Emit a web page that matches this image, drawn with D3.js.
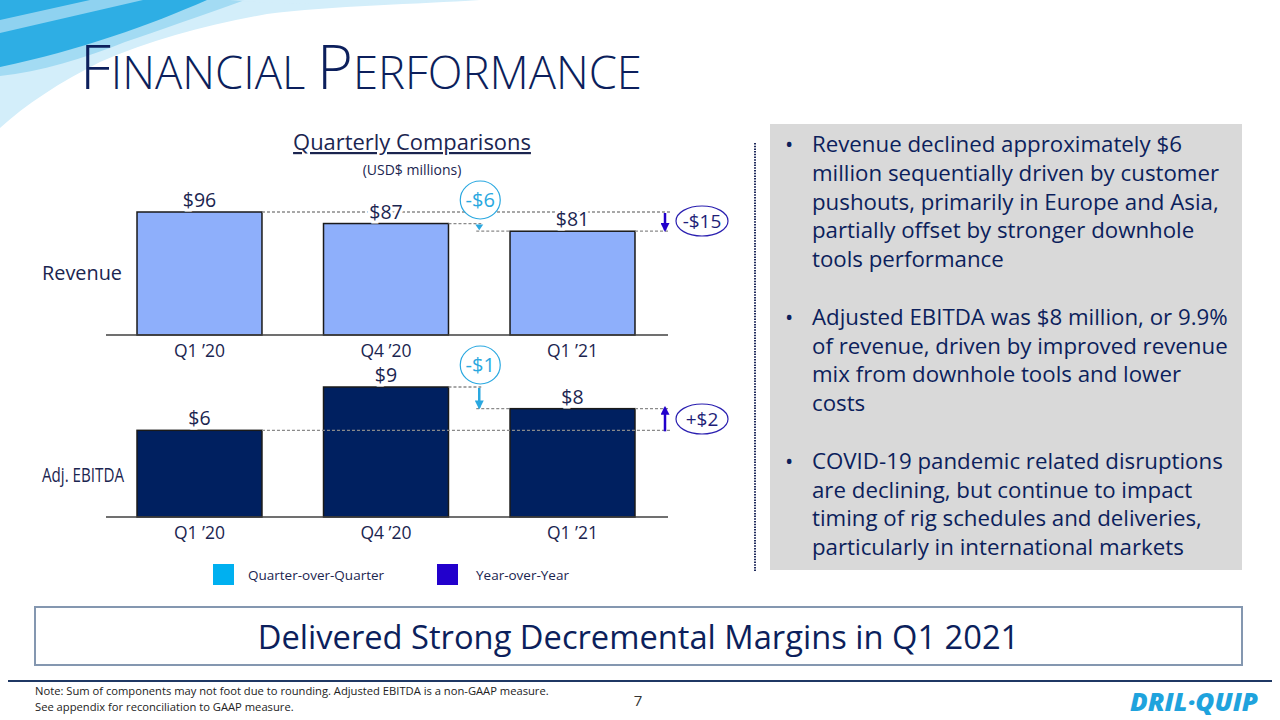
<!DOCTYPE html>
<html><head><meta charset="utf-8">
<script src="https://cdn.jsdelivr.net/npm/d3@7"></script>
<style>
html,body{margin:0;padding:0;background:#fff;}
svg{display:block;font-family:"Open Sans",sans-serif;}
</style></head>
<body>
<svg id="c" width="1280" height="720"></svg>
<script>
// ---------------- data ----------------
const quarters = ["Q1 \u201920", "Q4 \u201920", "Q1 \u201921"];
const revenue = [96, 87, 81];
const ebitda = [6.0, 9.0, 7.5];
const qoqLabels = ["-$6", "-$1"];
const yoyLabels = ["-$15", "+$2"];
const legendItems = ["Quarter-over-Quarter", "Year-over-Year"];
const bullets = [
  ["Revenue declined approximately $6", "million sequentially driven by customer", "pushouts, primarily in Europe and Asia,", "partially offset by stronger downhole", "tools performance"],
  ["Adjusted EBITDA was $8 million, or 9.9%", "of revenue, driven by improved revenue", "mix from downhole tools and lower", "costs"],
  ["COVID-19 pandemic related disruptions", "are declining, but continue to impact", "timing of rig schedules and deliveries,", "particularly in international markets"]
];
const noteLines = ["Note: Sum of components may not foot due to rounding. Adjusted EBITDA is a non-GAAP measure.", "See appendix for reconciliation to GAAP measure."];

// ---------------- style ----------------
const NAVY = "#0c1f5c", TXT = "#1b2550", REVC = "#8eaffb", EBC = "#002060";
const QOQ = "#2aa8e0", QOQSQ = "#00b0f0", YOY = "#2200cc", YOYC = "#2a1fb0", GRID = "#8a8a8a";

const svg = d3.select("#c");
function fit(sel, target) {
  const w = sel.node().getComputedTextLength();
  const fs = parseFloat(sel.attr("font-size"));
  sel.attr("font-size", fs * target / w);
  return fs * target / w;
}

// ------------- background wave -------------
const wave = svg.append("g");
wave.append("path").attr("fill", "#d3eefa")
  .attr("d", "M0,0 L480,0 C420,4 330,6 267,14 C210,24 150,40 100,62 C60,82 25,105 0,128 Z");
wave.append("path").attr("fill", "#a3dbf3")
  .attr("d", "M0,0 L245,0 C200,16 160,30 125,42 C85,58 40,72 0,76 Z");
wave.append("path").attr("fill", "#8fd2f0")
  .attr("d", "M0,0 L205,0 C150,22 90,40 40,56 C25,60 10,64 0,67 Z");
wave.append("path").attr("fill", "#2eaee4")
  .attr("d", "M0,33 L143,0 L207,0 C150,25 80,50 0,67 Z");
wave.append("path").attr("fill", "#2eaee4")
  .attr("d", "M0,0 L90,0 L0,20 Z");
wave.append("path").attr("fill", "#d3eefa").attr("opacity", 0.8)
  .attr("d", "M230,0 C300,6 380,4 470,0 Z");

// ------------- title -------------
const title = svg.append("text").attr("x", 80).attr("y", 89).attr("fill", NAVY)
  .attr("font-weight", 300).attr("font-size", 53);
const tparts = [["F", 1], ["INANCIAL ", 0.74], ["P", 1], ["ERFORMANCE", 0.74]];
tparts.forEach(p => title.append("tspan").attr("font-size", 53 * p[1]).text(p[0]));
{
  const w = title.node().getComputedTextLength();
  const k = 562 / w;
  title.selectAll("tspan").attr("font-size", function () { return parseFloat(d3.select(this).attr("font-size")) * k; });
}

// ------------- chart header -------------
const hdr = svg.append("text").attr("x", 412).attr("y", 150).attr("text-anchor", "middle")
  .attr("fill", TXT).attr("font-size", 21).attr("text-decoration", "underline").text("Quarterly Comparisons");
fit(hdr, 238);
svg.append("text").attr("x", 412).attr("y", 175).attr("text-anchor", "middle")
  .attr("fill", TXT).attr("font-size", 14).text("(USD$ millions)");

// ------------- scales -------------
const x = d3.scaleBand().domain(quarters).range([120, 652]).paddingInner(0.33).paddingOuter(0.0912);
const bw = x.bandwidth();
const yRev = d3.scaleLinear().domain([0, d3.max(revenue)]).range([335, 212]);
const yEb = d3.scaleLinear().domain([0, d3.max(ebitda)]).range([517, 387]);
const lineEnd = 670, qoqX = (x(quarters[1]) + bw + x(quarters[2])) / 2, yoyX = 665;

// arrow markers
const defs = svg.append("defs");
function marker(id, color) {
  defs.append("marker").attr("id", id).attr("viewBox", "0 0 10 10").attr("refX", 8).attr("refY", 5)
    .attr("markerWidth", 3.6).attr("markerHeight", 3.6).attr("orient", "auto-start-reverse")
    .append("path").attr("d", "M0,0 L10,5 L0,10 Z").attr("fill", color);
}
marker("mq", QOQ); marker("my", YOY);

function panel(values, y, fill, rowLabel, rowY, rowW, qoqLab, yoyLab, qoqCircleY, yoyCircleY, tinyQoq) {
  const g = svg.append("g");
  // bars
  g.selectAll("rect.bar").data(values).join("rect").attr("class", "bar")
    .attr("x", (d, i) => x(quarters[i])).attr("width", bw)
    .attr("y", d => y(d)).attr("height", d => y(0) - y(d))
    .attr("fill", fill).attr("stroke", "#1a1a1a").attr("stroke-width", 1.5);
  // baseline
  g.append("line").attr("x1", 106).attr("x2", 668).attr("y1", y(0)).attr("y2", y(0))
    .attr("stroke", "#404040").attr("stroke-width", 1.3);
  // axis labels
  const ax = g.append("g").attr("transform", `translate(0,${y(0)})`)
    .call(d3.axisBottom(x).tickSize(0).tickPadding(10));
  ax.select(".domain").remove();
  ax.selectAll("text").attr("font-size", 17.5).attr("fill", TXT).attr("font-family", "Open Sans");
  // dashed reference lines
  const dash = (x1, x2, yy) => g.append("line").attr("x1", x1).attr("x2", x2).attr("y1", yy).attr("y2", yy)
    .attr("stroke", GRID).attr("stroke-width", 1.3).attr("stroke-dasharray", "3,2");
  dash(x(quarters[0]) + bw, lineEnd, y(values[0]));
  dash(x(quarters[1]) + bw, qoqX + 2, y(values[1]));
  dash(qoqX - 3, x(quarters[2]), y(values[2]));
  dash(x(quarters[2]) + bw, lineEnd, y(values[2]));
  // value labels
  g.selectAll("text.val").data(values).join("text").attr("class", "val")
    .attr("x", (d, i) => x(quarters[i]) + bw / 2).attr("y", d => y(d) - 5)
    .attr("text-anchor", "middle").attr("font-size", 19.5).attr("fill", TXT)
    .attr("stroke", "#fff").attr("stroke-width", 6).attr("paint-order", "stroke")
    .text(d => d3.format("$.0f")(d));
  // QoQ arrow
  if (tinyQoq) {
    const yt = y(values[1]) + 1, yb = y(values[2]) - 1;
    g.append("path").attr("d", `M${qoqX - 4},${yt} L${qoqX + 4},${yt} L${qoqX},${yb} Z`).attr("fill", QOQ);
  } else {
    g.append("line").attr("x1", qoqX).attr("x2", qoqX).attr("y1", y(values[1]) + 1).attr("y2", y(values[2]) - 1)
      .attr("stroke", QOQ).attr("stroke-width", 2.5).attr("marker-end", "url(#mq)");
  }
  // YoY arrow
  g.append("line").attr("x1", yoyX).attr("x2", yoyX).attr("y1", y(values[0]) + 1).attr("y2", y(values[2]) - 1)
    .attr("stroke", YOY).attr("stroke-width", 2.5).attr("marker-end", "url(#my)");
  // callouts
  g.append("ellipse").attr("cx", qoqX + 1).attr("cy", qoqCircleY).attr("rx", 20).attr("ry", 19)
    .attr("fill", "#fff").attr("stroke", QOQ).attr("stroke-width", 1.2);
  g.append("text").attr("x", qoqX + 1).attr("y", qoqCircleY + 7).attr("text-anchor", "middle")
    .attr("font-size", 20).attr("fill", QOQ).text(qoqLab);
  g.append("ellipse").attr("cx", 702).attr("cy", yoyCircleY).attr("rx", 26).attr("ry", 15)
    .attr("fill", "#fff").attr("stroke", YOYC).attr("stroke-width", 1.2);
  g.append("text").attr("x", 702).attr("y", yoyCircleY + 7).attr("text-anchor", "middle")
    .attr("font-size", 19).attr("fill", "#1e1e78").text(yoyLab);
  // row label
  g.append("text").attr("x", 42).attr("y", rowY).attr("font-size", 20).attr("fill", TXT)
    .attr("textLength", rowW).attr("lengthAdjust", "spacingAndGlyphs").text(rowLabel);
}
panel(revenue, yRev, REVC, "Revenue", 280, 80, qoqLabels[0], yoyLabels[0], 200, 221, true);
panel(ebitda, yEb, EBC, "Adj. EBITDA", 482, 82, qoqLabels[1], yoyLabels[1], 365, 419, false);

// ------------- legend -------------
const lg = svg.append("g");
[[213, 248, QOQSQ], [437, 476, YOY]].forEach((p, i) => {
  lg.append("rect").attr("x", p[0]).attr("y", 564).attr("width", 21).attr("height", 21).attr("fill", p[2]);
  lg.append("text").attr("x", p[1]).attr("y", 580).attr("font-size", 13.5).attr("fill", TXT).text(legendItems[i]);
});

// ------------- separator -------------
svg.append("line").attr("x1", 755).attr("x2", 755).attr("y1", 143).attr("y2", 572)
  .attr("stroke", "#1f2a5c").attr("stroke-width", 2).attr("stroke-dasharray", "1.5,1.2");

// ------------- text box -------------
svg.append("rect").attr("x", 770).attr("y", 124).attr("width", 472).attr("height", 446).attr("fill", "#d9d9d9");
const tb = svg.append("g");
let li = 0;
const bulletTexts = [];
bullets.forEach((para, pi) => {
  para.forEach((line, k) => {
    const yy = 152 + li * 28.8;
    if (k === 0) tb.append("text").attr("x", 785).attr("y", yy).attr("font-size", 22).attr("fill", NAVY).text("\u2022");
    bulletTexts.push(tb.append("text").attr("x", 812).attr("y", yy).attr("font-size", 22).attr("fill", NAVY).text(line));
    li++;
  });
  li++;
});
{
  const ref = bulletTexts[5];
  const w = ref.node().getComputedTextLength();
  const fs = 22 * 416 / w;
  bulletTexts.forEach(t => t.attr("font-size", fs));
}

// ------------- statement box -------------
svg.append("rect").attr("x", 35).attr("y", 607).attr("width", 1207).attr("height", 58)
  .attr("fill", "#fff").attr("stroke", "#8497b0").attr("stroke-width", 2);
const st = svg.append("text").attr("x", 638.5).attr("y", 649).attr("text-anchor", "middle")
  .attr("font-size", 33).attr("fill", NAVY).text("Delivered Strong Decremental Margins in Q1 2021");
fit(st, 762);

// ------------- footer -------------
svg.append("line").attr("x1", 8).attr("x2", 1272).attr("y1", 681).attr("y2", 681)
  .attr("stroke", "#1f3864").attr("stroke-width", 2);
let noteSize = 11;
noteLines.forEach((t, i) => {
  const n = svg.append("text").attr("x", 35).attr("y", 695 + i * 15.5).attr("font-size", noteSize).attr("fill", "#222").text(t);
  if (i === 0) noteSize = fit(n, 514);
});
svg.append("text").attr("x", 638).attr("y", 706).attr("text-anchor", "middle").attr("font-size", 15).attr("fill", "#333").text("7");
svg.append("text").attr("x", 1130).attr("y", 711).attr("font-size", 24).attr("font-weight", 900)
  .attr("font-style", "italic").attr("fill", "#1fa3dd").attr("textLength", 128).attr("lengthAdjust", "spacingAndGlyphs")
  .text("DRIL\u00B7QUIP");
</script>
</body></html>
